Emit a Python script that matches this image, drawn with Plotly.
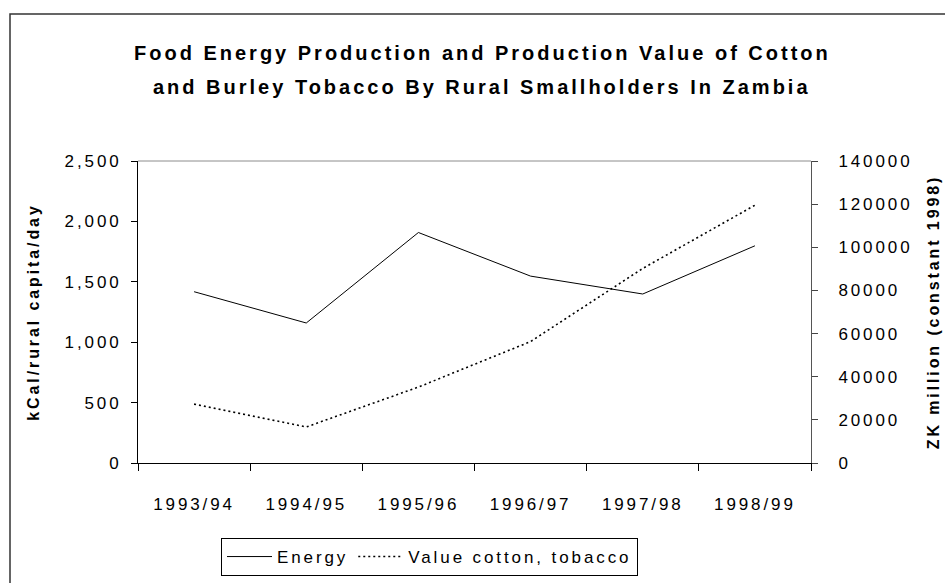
import plotly.graph_objects as go

# ---- data ----
seasons = ["1993/94", "1994/95", "1995/96", "1996/97", "1997/98", "1998/99"]
energy_kcal = [1418, 1159, 1908, 1547, 1399, 1798]
value_cotton_tobacco = [27300, 16700, 35200, 56300, 90200, 119500]

title_line1 = "Food Energy Production and Production Value of Cotton"
title_line2 = "and Burley Tobacco By Rural Smallholders In Zambia"
left_title = "kCal/rural capita/day"
right_title = "ZK million (constant 1998)"

W, H = 945, 583
L, R, T, B = 138, 134, 161, 120
pw, ph = W - L - R, H - T - B


def px_x(px):
    return (px - L) / pw


def px_y(py):
    return (H - B - py) / ph


fig = go.Figure()
fig.add_trace(go.Scatter(
    x=seasons, y=energy_kcal, name="Energy", mode="lines",
    line=dict(color="black", width=1), yaxis="y"))
fig.add_trace(go.Scatter(
    x=seasons, y=value_cotton_tobacco, name="Value cotton, tobacco", mode="lines",
    line=dict(color="black", width=1.6, dash="2px,3px"), yaxis="y2"))

fig.update_layout(
    width=W, height=H,
    margin=dict(l=L, r=R, t=T, b=B, autoexpand=False),
    paper_bgcolor="white", plot_bgcolor="white",
    font=dict(family="Arial", size=17, color="black"),
    showlegend=True,
    legend=dict(orientation="h", x=px_x(221), y=px_y(538), xanchor="left", yanchor="top",
                bordercolor="black", borderwidth=1, bgcolor="white",
                font=dict(size=17), itemwidth=45, tracegroupgap=0),
    xaxis=dict(type="category", range=[-0.5, 5.5], tickson="boundaries",
               ticks="outside", ticklen=7, tickcolor="black", tickwidth=1,
               showline=True, linecolor="black", linewidth=1, showgrid=False,
               zeroline=False, ticklabelstandoff=26, automargin=False),
    yaxis=dict(range=[0, 2500], dtick=500, tickformat=",", ticks="outside", ticklen=6,
               tickcolor="black", showline=True, linecolor="black", linewidth=1,
               showgrid=False, zeroline=False, ticklabelstandoff=6, automargin=False,
               title=dict(text="<b>" + left_title + "</b>", standoff=20,
                          font=dict(size=16))),
    yaxis2=dict(range=[0, 140000], dtick=20000, tickformat="d", overlaying="y", side="right",
                anchor="x", ticks="outside", ticklen=6, tickcolor="#444",
                showline=True, linecolor="#555", linewidth=1, showgrid=False,
                zeroline=False, ticklabelstandoff=17, automargin=False,
                title=dict(text="<b>" + right_title + "</b>", standoff=16,
                           font=dict(size=16))),
    yaxis3=dict(range=[0, 140000], dtick=20000, overlaying="y", side="right", anchor="x",
                ticks="inside", ticklen=6, tickcolor="#444", showticklabels=False,
                showline=False, showgrid=False, zeroline=False, automargin=False),
    shapes=[
        dict(type="line", xref="paper", yref="paper", x0=0, x1=1, y0=1, y1=1,
             line=dict(color="#8c8c8c", width=1), layer="below"),
        dict(type="rect", xref="paper", yref="paper", x0=px_x(10), x1=px_x(960),
             y0=px_y(600), y1=px_y(14), line=dict(color="#333", width=1.5), layer="below"),
    ],
    annotations=[
        dict(text="<b>" + title_line1 + "</b>", xref="paper", yref="paper",
             x=px_x(482), y=px_y(53), xanchor="center", yanchor="middle",
             showarrow=False, font=dict(size=20)),
        dict(text="<b>" + title_line2 + "</b>", xref="paper", yref="paper",
             x=px_x(482), y=px_y(87), xanchor="center", yanchor="middle",
             showarrow=False, font=dict(size=20)),
    ],
)

post = """
document.body.style.margin = '0';
var gd = document.getElementById('{plot_id}');
var s = document.createElement('style');
s.textContent = 'body { margin: 0; } svg text { letter-spacing: 2.9px; } '
  + 'svg text.annotation-text { letter-spacing: 3px; }';
document.head.appendChild(s);
return Plotly.relayout(gd, {'font.family': 'Liberation Sans'});
"""

fig.write_html("out.html", config={"displayModeBar": False}, post_script=post)
